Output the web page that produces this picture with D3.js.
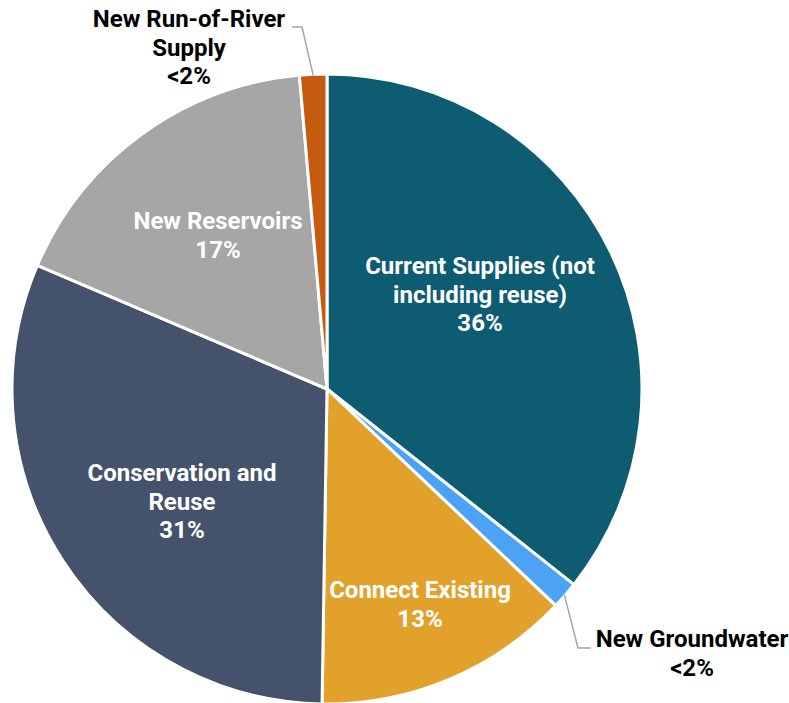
<!DOCTYPE html>
<html>
<head>
<meta charset="utf-8">
<script src="https://cdn.jsdelivr.net/npm/d3@7"></script>
<style>
  html, body { margin: 0; padding: 0; background: #fff; }
  svg { display: block; font-family: Roboto, "Noto Sans", sans-serif; }
</style>
</head>
<body>
<svg id="chart" width="789" height="703"></svg>
<script>
// Water supply sources (share of total, %)
const categories = [
  "Current Supplies (not including reuse)",
  "New Groundwater",
  "Connect Existing",
  "Conservation and Reuse",
  "New Reservoirs",
  "New Run-of-River Supply"
];
const values = [35.7, 1.4, 13.2, 31.2, 17.2, 1.4];
const valueLabels = ["36%", "<2%", "13%", "31%", "17%", "<2%"];
const labelLines = [
  ["Current Supplies (not", "including reuse)"],
  ["New Groundwater"],
  ["Connect Existing"],
  ["Conservation and", "Reuse"],
  ["New Reservoirs"],
  ["New Run-of-River", "Supply"]
];
const colors = ["#0e5c72", "#4ca3f6", "#e2a12a", "#44526b", "#a6a6a6", "#c55a11"];

// Layout
const cx = 327, cy = 389, radius = 315;
const fontSize = 24, lineH = 28.5;
// label block: centre x and first baseline, relative to the pie centre;
// outside labels carry a leader line back to their slice
const labelPos = [
  { x: 153, y: -115, inside: true },
  { x: 365, y: 258, inside: false, leader: [[251, 259], [264, 259]] },
  { x: 93, y: 209, inside: true },
  { x: -145, y: 92, inside: true },
  { x: -109, y: -160, inside: true },
  { x: -138, y: -362, inside: false, leader: [[-25, -362], [-35, -362]] }
];

const svg = d3.select("#chart");
const g = svg.append("g").attr("transform", `translate(${cx},${cy})`);

const pie = d3.pie().sort(null).value(d => d.value);
const data = pie(categories.map((c, i) => ({ name: c, value: values[i], i })));
const arc = d3.arc().innerRadius(0).outerRadius(radius);

g.selectAll("path.slice")
  .data(data)
  .join("path")
  .attr("class", "slice")
  .attr("d", arc)
  .attr("fill", d => colors[d.data.i])
  .attr("stroke", "#fff")
  .attr("stroke-width", 3)
  .attr("stroke-linejoin", "round");

// leader lines for the thin slices
const edgeArc = d3.arc().innerRadius(radius - 1).outerRadius(radius - 1);
data.forEach(d => {
  const lp = labelPos[d.data.i];
  if (!lp.leader) return;
  const start = edgeArc.centroid(d);
  const pts = [start, ...lp.leader];
  g.append("path")
    .attr("d", d3.line()(pts))
    .attr("fill", "none")
    .attr("stroke", "#a6a6a6")
    .attr("stroke-width", 1.5);
});

// labels
data.forEach(d => {
  const i = d.data.i;
  const lp = labelPos[i];
  const lines = labelLines[i].concat([valueLabels[i]]);
  const t = g.append("text")
    .attr("text-anchor", "middle")
    .attr("font-size", fontSize)
    .attr("font-weight", 700)
    .attr("fill", lp.inside ? "#fff" : "#000");
  lines.forEach((ln, k) => {
    t.append("tspan")
      .attr("x", lp.x)
      .attr("y", lp.y + k * lineH)
      .text(ln);
  });
});
</script>
</body>
</html>
